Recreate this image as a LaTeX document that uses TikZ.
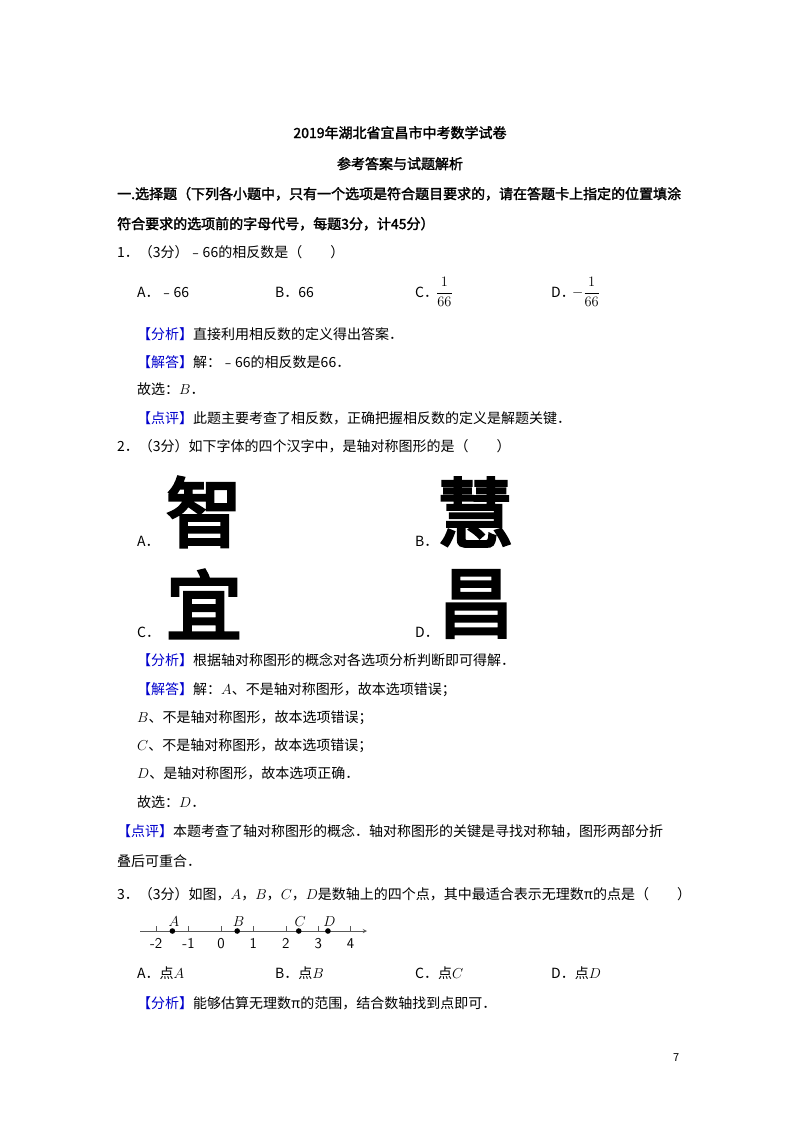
\documentclass[tikz,border=0pt]{standalone}
\usepackage{fontspec}
\setmainfont{Liberation Serif}
\newfontfamily\cjk{Noto Sans CJK SC}
\newfontfamily\cjkb{Noto Sans CJK SC}[FakeBold=2]
\newfontfamily\cjkbig{Noto Sans CJK SC}[FakeBold=4]
\begin{document}
\begin{tikzpicture}[x=1pt,y=-1pt,
  t/.style={anchor=base west,inner sep=0pt,font=\fontsize{14pt}{16pt}\cjk},
  tb/.style={anchor=base west,inner sep=0pt,font=\fontsize{14pt}{16pt}\cjkb},
  big/.style={anchor=center,inner sep=0pt,font=\fontsize{76pt}{78pt}\cjkbig}]
\useasboundingbox[fill=white] (0,0) rectangle (800,1132);
\def\bl#1{\textcolor{blue!80!black}{【#1】}}
\node[tb,anchor=base] (t1) at (400,138) {2019年湖北省宜昌市中考数学试卷};
\node[tb,anchor=base] (t2) at (400,169) {参考答案与试题解析};
\node[tb] (h1) at (117,199) {一.选择题（下列各小题中，只有一个选项是符合题目要求的，请在答题卡上指定的位置填涂};
\node[tb] (h2) at (117,229) {符合要求的选项前的字母代号，每题3分，计45分）};
\node[t] (q1) at (117,257) {1．（3分）﹣66的相反数是（\quad\quad）};
\node[t] (o1a) at (137,297) {A．﹣66};
\node[t] (o1b) at (275,297) {B．66};
\node[t] (o1c) at (415,297) {C．};
\node[anchor=west,inner sep=0pt,font=\fontsize{14pt}{16pt}\selectfont] (f1) at (436,292) {$\displaystyle\frac{1}{66}$};
\node[t] (o1d) at (551,297) {D．};
\node[anchor=west,inner sep=0pt,font=\fontsize{14pt}{16pt}\selectfont] (f2) at (572,292) {$\displaystyle-\frac{1}{66}$};
\node[t] (a1) at (137,339) {\bl{分析}直接利用相反数的定义得出答案．};
\node[t] (a2) at (137,367) {\bl{解答}解：﹣66的相反数是66．};
\node[t] (a3) at (137,394) {故选：$B$．};
\node[t] (a4) at (137,423) {\bl{点评}此题主要考查了相反数，正确把握相反数的定义是解题关键．};
\node[t] (q2) at (117,451) {2．（3分）如下字体的四个汉字中，是轴对称图形的是（\quad\quad）};
\node[t] (o2a) at (137,546) {A．};
\node[big] (c1) at (204,512) {智};
\node[t] (o2b) at (415,546) {B．};
\node[big] (c2) at (475,512) {慧};
\node[t] (o2c) at (137,637) {C．};
\node[big] (c3) at (204,604) {宜};
\node[t] (o2d) at (415,637) {D．};
\node[big] (c4) at (476,604) {昌};
\node[t] (b1) at (137,665) {\bl{分析}根据轴对称图形的概念对各选项分析判断即可得解．};
\node[t] (b2) at (137,694) {\bl{解答}解：$A$、不是轴对称图形，故本选项错误；};
\node[t] (b3) at (137,722) {$B$、不是轴对称图形，故本选项错误；};
\node[t] (b4) at (137,750) {$C$、不是轴对称图形，故本选项错误；};
\node[t] (b5) at (137,778) {$D$、是轴对称图形，故本选项正确．};
\node[t] (b6) at (137,807) {故选：$D$．};
\node[t] (b7) at (117,836) {\bl{点评}本题考查了轴对称图形的概念．轴对称图形的关键是寻找对称轴，图形两部分折};
\node[t] (b8) at (117,866) {叠后可重合．};
\node[t] (q3) at (117,899) {3．（3分）如图，$A$，$B$，$C$，$D$是数轴上的四个点，其中最适合表示无理数π的点是（\quad\quad）};
% number line
\coordinate (ls) at (140,931);
\coordinate (le) at (367,931);
\draw[gray!70!black,line width=0.9,->,>=stealth] (ls) -- (le);
\foreach \v [count=\i] in {-2,-1,0,1,2,3,4}{
  \pgfmathsetmacro\xx{221+32.4*\v}
  \draw[gray!70!black] (\xx,931) -- (\xx,926);
  \node[anchor=base,inner sep=0pt,font=\fontsize{15pt}{17pt}\selectfont\sffamily] (n\i) at (\xx,948) {\v};
}
\foreach \nm/\v in {A/-1.5,B/0.5,C/2.4,D/3.3}{
  \pgfmathsetmacro\xx{221+32.4*\v}
  \fill (\xx,931) circle (2.8);
  \node[anchor=base,inner sep=0pt,font=\fontsize{15pt}{17pt}\selectfont] (p\nm) at (\xx+1.5,926) {$\nm$};
}
\node[t] (o3a) at (137,978) {A．点$A$};
\node[t] (o3b) at (275,978) {B．点$B$};
\node[t] (o3c) at (415,978) {C．点$C$};
\node[t] (o3d) at (551,978) {D．点$D$};
\node[t] (c1a) at (137,1008) {\bl{分析}能够估算无理数π的范围，结合数轴找到点即可．};
\node[t,font=\fontsize{11pt}{13pt}\cjk] (pg) at (673,1061) {7};
\end{tikzpicture}
\end{document}
